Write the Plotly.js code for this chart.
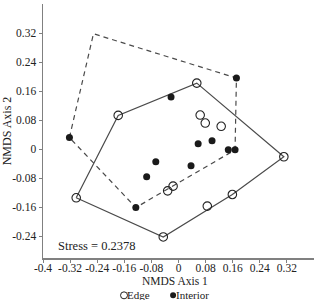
<!DOCTYPE html>
<html>
<head>
<meta charset="utf-8">
<script src="https://cdn.plot.ly/plotly-3.0.1.min.js"></script>
<style>html,body{margin:0;padding:0;background:#fff;}#chart{width:319px;height:300px;}</style>
</head>
<body>
<div id="chart"></div>
<script>
// NMDS site scores
const edgeX = [-0.302, -0.178, 0.054, 0.064, 0.079, 0.126, -0.016, -0.032, 0.159, 0.085, 0.311, -0.045];
const edgeY = [-0.134, 0.093, 0.182, 0.094, 0.072, 0.063, -0.102, -0.115, -0.125, -0.157, -0.021, -0.242];
const interiorX = [0.171, -0.022, 0.058, 0.099, 0.147, 0.167, -0.067, -0.094, 0.037, -0.126, -0.322];
const interiorY = [0.196, 0.144, 0.015, 0.023, -0.002, -0.002, -0.035, -0.076, -0.046, -0.161, 0.032];

// convex hull outlines (closed)
const edgeHullX = [-0.302, -0.178, 0.054, 0.311, 0.159, -0.045, -0.302];
const edgeHullY = [-0.134, 0.093, 0.182, -0.021, -0.125, -0.242, -0.134];
const interiorHullX = [-0.322, -0.251, 0.171, 0.167, -0.126, -0.322];
const interiorHullY = [0.032, 0.318, 0.196, -0.002, -0.161, 0.032];

const xTicks = [-0.4, -0.32, -0.24, -0.16, -0.08, 0, 0.08, 0.16, 0.24, 0.32];
const xTickText = ['-0.4', '-0.32', '-0.24', '-0.16', '-0.08', '0', '0.08', '0.16', '0.24', '0.32'];
const yTicks = [-0.24, -0.16, -0.08, 0, 0.08, 0.16, 0.24, 0.32];
const yTickText = ['-0.24', '-0.16', '-0.08', '0', '0.08', '0.16', '0.24', '0.32'];
const groupNames = ['Edge', 'Interior'];
const xTitle = 'NMDS Axis 1';
const yTitle = 'NMDS Axis 2';
const stressLabel = 'Stress = 0.2378';

const FONT = 'Liberation Serif, Times New Roman, serif';
const lineCol = '#4a4a4a';
const axisCol = '#808080';
const markCol = '#222';

const traces = [
  {x: edgeHullX, y: edgeHullY, mode: 'lines', line: {color: lineCol, width: 1.2}, showlegend: false, hoverinfo: 'skip'},
  {x: interiorHullX, y: interiorHullY, mode: 'lines', line: {color: lineCol, width: 1.2, dash: '5px,4px'}, showlegend: false, hoverinfo: 'skip'},
  {x: edgeX, y: edgeY, mode: 'markers', name: groupNames[0], showlegend: false,
   marker: {symbol: 'circle-open', size: 8.5, color: markCol, line: {width: 1.1, color: markCol}}},
  {x: interiorX, y: interiorY, mode: 'markers', name: groupNames[1], showlegend: false,
   marker: {symbol: 'circle', size: 7, color: '#1a1a1a'}}
];

// compact key below the axis title: symbol immediately followed by its label
const keyY = -0.147;
const shapes = [
  {type: 'circle', xref: 'paper', yref: 'paper', xsizemode: 'pixel', ysizemode: 'pixel',
   xanchor: 0.299, yanchor: keyY, x0: -3.5, x1: 3.5, y0: -3.5, y1: 3.5,
   line: {color: markCol, width: 1}, fillcolor: 'rgba(0,0,0,0)'},
  {type: 'circle', xref: 'paper', yref: 'paper', xsizemode: 'pixel', ysizemode: 'pixel',
   xanchor: 0.48, yanchor: keyY, x0: -3, x1: 3, y0: -3, y1: 3,
   line: {color: '#1a1a1a', width: 0}, fillcolor: '#1a1a1a'}
];

const layout = {
  width: 319, height: 300,
  margin: {l: 43, r: 5, t: 4, b: 42, autoexpand: false},
  paper_bgcolor: '#fff', plot_bgcolor: '#fff',
  font: {family: FONT, size: 11.5, color: '#222'},
  showlegend: false,
  xaxis: {
    range: [-0.4, 0.4], tickvals: xTicks, ticktext: xTickText,
    showgrid: false, zeroline: false, showline: true, linecolor: axisCol, linewidth: 1.5,
    ticks: 'outside', ticklen: 3, tickcolor: axisCol, ticklabelstandoff: -4
  },
  yaxis: {
    range: [-0.3, 0.4], tickvals: yTicks, ticktext: yTickText,
    showgrid: false, zeroline: false, showline: true, linecolor: axisCol, linewidth: 1.5,
    ticks: 'outside', ticklen: 3, tickcolor: axisCol,
    title: {text: yTitle, font: {size: 12}, standoff: 6}
  },
  shapes: shapes,
  annotations: [
    {x: 0.5, y: -0.092, xref: 'paper', yref: 'paper', xanchor: 'center', yanchor: 'middle',
     text: xTitle, showarrow: false, font: {size: 11.5}, xshift: -4},
    {x: 0.048, y: 0.046, xref: 'paper', yref: 'paper', xanchor: 'left', yanchor: 'middle',
     text: stressLabel, showarrow: false, font: {size: 12.5}},
    {x: 0.31, y: keyY, xref: 'paper', yref: 'paper', xanchor: 'left', yanchor: 'middle',
     text: groupNames[0], showarrow: false, font: {size: 11}, xshift: -2},
    {x: 0.491, y: keyY, xref: 'paper', yref: 'paper', xanchor: 'left', yanchor: 'middle',
     text: groupNames[1], showarrow: false, font: {size: 11}, xshift: -2}
  ]
};

Plotly.newPlot('chart', traces, layout, {staticPlot: true, displayModeBar: false});
</script>
</body>
</html>
